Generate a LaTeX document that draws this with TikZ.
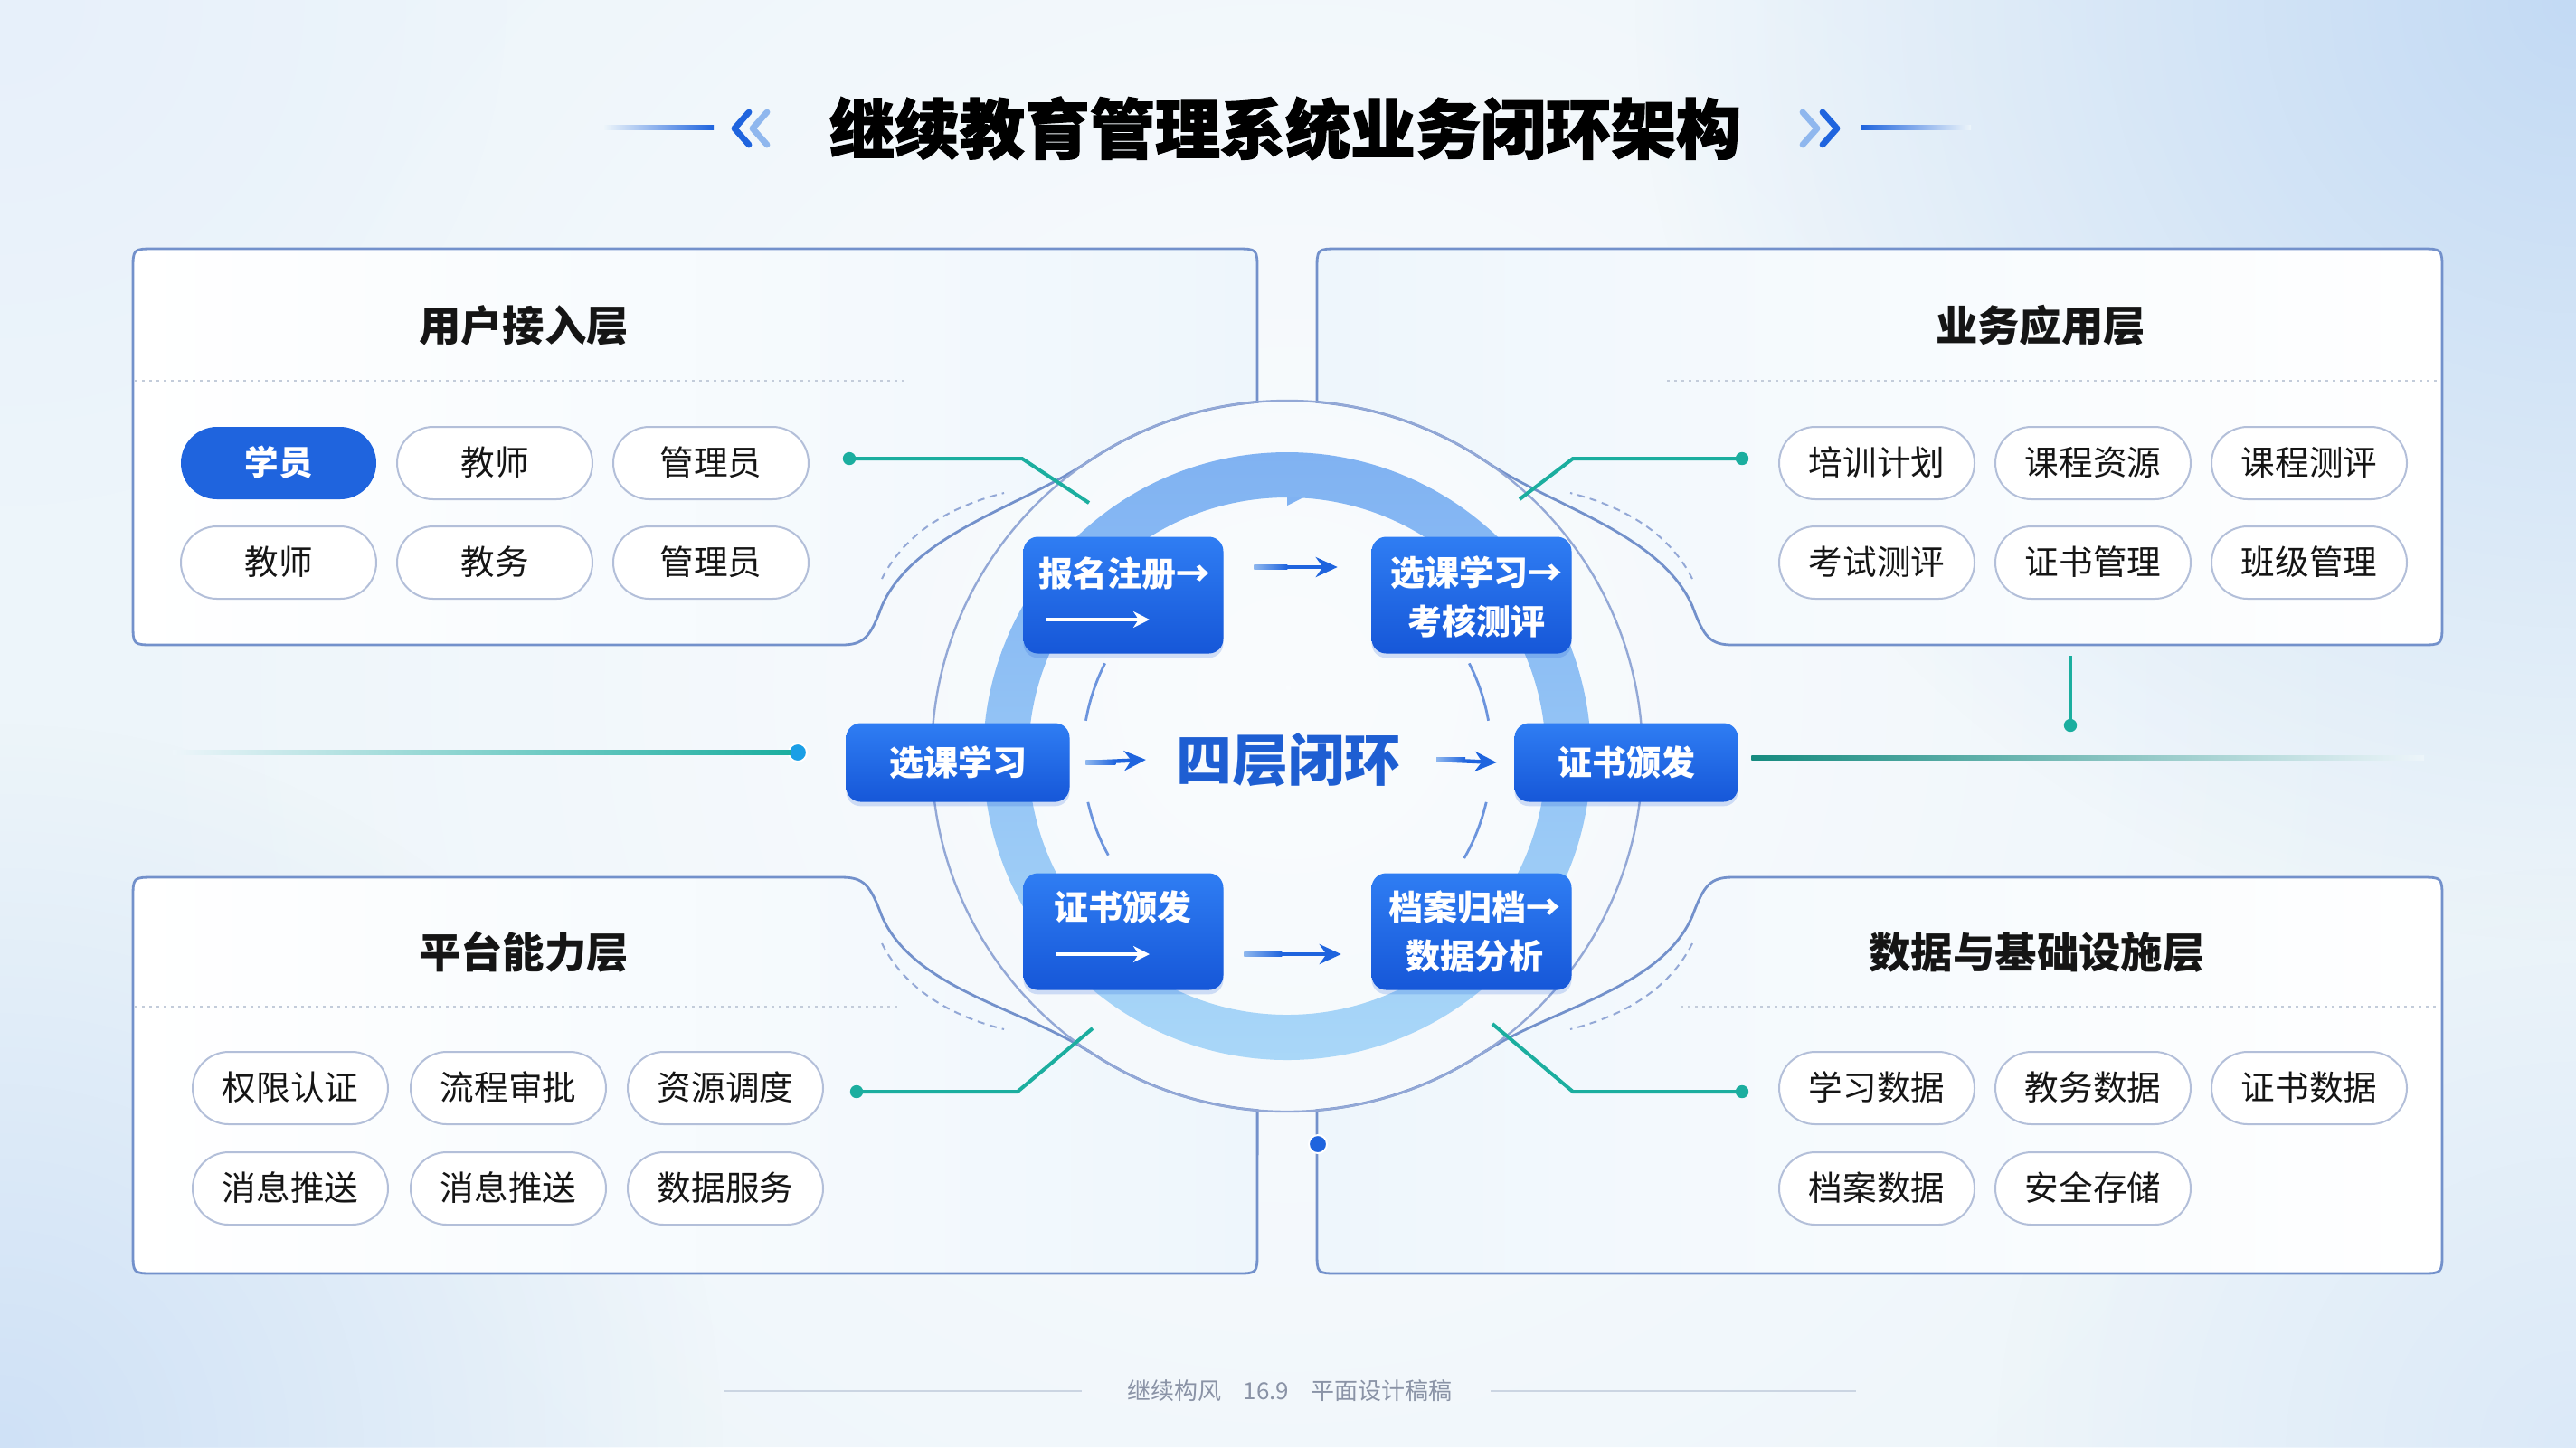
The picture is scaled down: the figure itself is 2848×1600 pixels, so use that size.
\documentclass[tikz,border=0pt]{standalone}
\usepackage{fontspec}
\setmainfont{Noto Sans CJK SC}
\newfontfamily\titlefont[BoldFeatures={FakeBold=1.6}]{Noto Sans CJK SC}
\usetikzlibrary{arrows.meta,shadows,calc,fadings}

\definecolor{bgbase}{HTML}{EDF5FA}
\definecolor{bgblue}{HTML}{C3DAF4}
\definecolor{bgwhite}{HTML}{FAFCFE}
\definecolor{panelline}{HTML}{7391CB}
\definecolor{panelfill}{HTML}{EEF6FC}
\definecolor{pillline}{HTML}{B3BFD9}
\definecolor{procA}{HTML}{2F7DF3}
\definecolor{procB}{HTML}{1657D8}
\definecolor{flowblue}{HTML}{1F64DE}
\definecolor{flowlight}{HTML}{8FB7EE}
\definecolor{ringtop}{HTML}{80B2F2}
\definecolor{ringbot}{HTML}{A9D7F8}
\definecolor{orbit}{HTML}{93A8D6}
\definecolor{arcblue}{HTML}{6C94DD}
\definecolor{tealline}{HTML}{1BAE9F}
\definecolor{dotblue}{HTML}{1A9FE6}
\definecolor{headblue}{HTML}{1E5ED2}
\definecolor{footgray}{HTML}{8A93A6}
\definecolor{footline}{HTML}{CBD5E2}
\definecolor{textdark}{HTML}{151515}
\definecolor{sepgray}{HTML}{C3CCDA}

\tikzfading[name=softglow, inner color=transparent!0, outer color=transparent!100]

\tikzset{
  panel/.style={draw=panelline, line width=0.7pt},
  sep/.style={draw=sepgray, line width=0.6pt, dash pattern=on 0.8pt off 1.2pt},
  decodash/.style={draw=orbit, line width=0.5pt, dash pattern=on 2pt off 1.5pt},
  heading/.style={font=\fontsize{11.6}{13}\selectfont\bfseries, text=textdark},
  chip/.style={draw=pillline, line width=0.5pt, fill=white, rounded corners=10pt,
     minimum width=54pt, minimum height=20pt, inner sep=0pt,
     font=\fontsize{9.4}{10}\selectfont, text=textdark, text height=0.8em, text depth=0.12em},
  chipon/.style={chip, draw=none, fill=flowblue, text=white, font=\fontsize{9.4}{10}\selectfont\bfseries},
  proc/.style={rounded corners=4pt, top color=procA, bottom color=procB, draw=none, inner sep=0pt,
     drop shadow={shadow xshift=0pt, shadow yshift=-1.2pt, opacity=0.18, fill=procB}},
  proctext/.style={text=white, font=\fontsize{9.5}{13.6}\selectfont\bfseries, align=center, inner sep=0pt},
  flow/.style={draw=flowblue, line width=1.1pt, -{Stealth[length=6pt, width=5.5pt]}},
  flowtail/.style={left color=flowlight, right color=flowblue},
  innerarrow/.style={draw=white, line width=0.8pt, -{Stealth[length=4.5pt, width=4.5pt]}},
  link/.style={draw=tealline, line width=1pt},
  tdot/.style={circle, fill=tealline, minimum size=3.6pt, inner sep=0pt},
  bdot/.style={circle, fill=dotblue, draw=white, line width=0.5pt, minimum size=5pt, inner sep=0pt},
  orbitline/.style={draw=orbit, line width=0.6pt},
  innerarc/.style={draw=arcblue, line width=0.7pt},
  chev/.style={line width=1.7pt, line cap=round, line join=round},
}

\begin{document}
\begin{tikzpicture}[x=0.25pt, y=-0.25pt]
\useasboundingbox (0,0) rectangle (2848,1600);

% backdrop with soft glows
\fill[bgbase] (0,0) rectangle (2848,1600);
\begin{scope}
  \clip (0,0) rectangle (2848,1600);
  \fill[bgwhite, path fading=softglow] (1424,760) circle[radius=330pt];
  \fill[bgblue, path fading=softglow] (2848,0) circle[radius=260pt];
  \fill[bgblue!80, path fading=softglow] (0,1600) circle[radius=200pt];
  \fill[bgblue!60, path fading=softglow] (2848,1600) circle[radius=160pt];
  \fill[bgblue!40, path fading=softglow] (0,0) circle[radius=140pt];
\end{scope}

% title
\node[font=\titlefont\fontsize{18}{20}\selectfont\bfseries, text=black] (title) at (1421,142) {继续教育管理系统业务闭环架构};
\shade[left color=bgbase, right color=flowblue] (668,138) rectangle (789,143);
\shade[left color=flowblue, right color=bgbase] (2058,138) rectangle (2179,143);
\draw[chev, flowblue] (828,124) -- (812,142) -- (828,160);
\draw[chev, flowlight] (848,124) -- (832,142) -- (848,160);
\draw[chev, flowlight] (1993,124) -- (2009,142) -- (1993,160);
\draw[chev, flowblue] (2015,124) -- (2031,142) -- (2015,160);

% four layer panels, each notched by the orbit circle
\path[panel, left color=white, right color=panelfill]
  (147,299) .. controls (147,275) .. (171,275) -- (1366,275) .. controls (1390,275) .. (1390,299) -- (1390,443)
  -- plot[domain=265.2:236, samples=20] ({1423+393*cos(\x)},{836+393*sin(\x)})
  .. controls (1130,560) and (1010,590) .. (975,670) .. controls (962,705) and (955,713) .. (930,713)
  -- (171,713) .. controls (147,713) .. (147,689) -- cycle;
\path[panel, left color=panelfill, right color=white]
  (2700,299) .. controls (2700,275) .. (2676,275) -- (1480,275) .. controls (1456,275) .. (1456,299) -- (1456,443)
  -- plot[domain=274.8:304, samples=20] ({1423+393*cos(\x)},{836+393*sin(\x)})
  .. controls (1716,560) and (1836,590) .. (1871,670) .. controls (1884,705) and (1891,713) .. (1916,713)
  -- (2676,713) .. controls (2700,713) .. (2700,689) -- cycle;
\path[panel, left color=white, right color=panelfill]
  (147,994) .. controls (147,970) .. (171,970) -- (930,970) .. controls (955,970) and (962,978) .. (975,1013)
  .. controls (1010,1093) and (1130,1115) .. (1203,1162)
  -- plot[domain=124:94.8, samples=20] ({1423+393*cos(\x)},{836+393*sin(\x)})
  -- (1390,1384) .. controls (1390,1408) .. (1366,1408) -- (171,1408) .. controls (147,1408) .. (147,1384) -- cycle;
\path[panel, left color=panelfill, right color=white]
  (2700,994) .. controls (2700,970) .. (2676,970) -- (1916,970) .. controls (1891,970) and (1884,978) .. (1871,1013)
  .. controls (1836,1093) and (1716,1115) .. (1643,1162)
  -- plot[domain=56:85.2, samples=20] ({1423+393*cos(\x)},{836+393*sin(\x)})
  -- (1456,1384) .. controls (1456,1408) .. (1480,1408) -- (2676,1408) .. controls (2700,1408) .. (2700,1384) -- cycle;

% dashed accents along the notches
\draw[decodash] (975,640) .. controls (1000,590) and (1050,560) .. (1110,545);
\draw[decodash] (1871,640) .. controls (1846,590) and (1796,560) .. (1736,545);
\draw[decodash] (975,1043) .. controls (1000,1093) and (1050,1123) .. (1110,1138);
\draw[decodash] (1871,1043) .. controls (1846,1093) and (1796,1123) .. (1736,1138);

% dotted separators
\draw[sep] (149,421) -- (1000,421);
\draw[sep] (1843,421) -- (2697,421);
\draw[sep] (149,1113) -- (992,1113);
\draw[sep] (1858,1113) -- (2697,1113);

% headings
\node[heading] (hA) at (579,360) {用户接入层};
\node[heading] (hB) at (2256,360) {业务应用层};
\node[heading] (hC) at (579,1053) {平台能力层};
\node[heading] (hD) at (2252,1053) {数据与基础设施层};

% chips
\node[chipon] (a1) at (308,512) {学员};
\node[chip] (a2) at (547,512) {教师};
\node[chip] (a3) at (786,512) {管理员};
\node[chip] (a4) at (308,622) {教师};
\node[chip] (a5) at (547,622) {教务};
\node[chip] (a6) at (786,622) {管理员};

\node[chip] (b1) at (2075,512) {培训计划};
\node[chip] (b2) at (2314,512) {课程资源};
\node[chip] (b3) at (2553,512) {课程测评};
\node[chip] (b4) at (2075,622) {考试测评};
\node[chip] (b5) at (2314,622) {证书管理};
\node[chip] (b6) at (2553,622) {班级管理};

\node[chip] (c1) at (321,1203) {权限认证};
\node[chip] (c2) at (562,1203) {流程审批};
\node[chip] (c3) at (802,1203) {资源调度};
\node[chip] (c4) at (321,1314) {消息推送};
\node[chip] (c5) at (562,1314) {消息推送};
\node[chip] (c6) at (802,1314) {数据服务};

\node[chip] (d1) at (2075,1203) {学习数据};
\node[chip] (d2) at (2314,1203) {教务数据};
\node[chip] (d3) at (2553,1203) {证书数据};
\node[chip] (d4) at (2075,1314) {档案数据};
\node[chip] (d5) at (2314,1314) {安全存储};

% orbit, loop ring and inner arcs
\draw[orbitline] (1423,836) circle[radius=98.25pt];
\path[top color=ringtop, bottom color=ringbot, even odd rule]
  (1423,836) circle[radius=84pt] (1423,836) circle[radius=71.5pt];
\fill[ringtop] (1423,550) -- (1423,559) -- (1441,550) -- cycle;
\draw[innerarc] plot[domain=190:207, samples=12] ({1423+226*cos(\x)},{836+226*sin(\x)});
\draw[innerarc] plot[domain=151:167, samples=12] ({1423+226*cos(\x)},{836+226*sin(\x)});
\draw[innerarc] plot[domain=333:350, samples=12] ({1423+226*cos(\x)},{836+226*sin(\x)});
\draw[innerarc] plot[domain=13:30, samples=12] ({1423+226*cos(\x)},{836+226*sin(\x)});

% teal leaders from the panels towards the loop
\node[tdot] (dA) at (939,507) {};
\coordinate (kA) at (1130,507); \coordinate (eA) at (1204,556);
\draw[link] (dA.center) -- (kA) -- (eA);
\node[tdot] (dB) at (1926,507) {};
\coordinate (kB) at (1739,507); \coordinate (eB) at (1680,552);
\draw[link] (dB.center) -- (kB) -- (eB);
\node[tdot] (dC) at (947,1207) {};
\coordinate (kC) at (1125,1207); \coordinate (eC) at (1208,1137);
\draw[link] (dC.center) -- (kC) -- (eC);
\node[tdot] (dD) at (1926,1207) {};
\coordinate (kD) at (1739,1207); \coordinate (eD) at (1650,1132);
\draw[link] (dD.center) -- (kD) -- (eD);
\node[tdot] (dE) at (2289,802) {};
\coordinate (kE) at (2289,725);
\draw[link] (kE) -- (dE.center);

% process boxes
\node[proc, minimum width=55.25pt, minimum height=32.25pt] (p1) at (1242,658) {};
\node[proctext] (t1) at (1243,634) {报名注册→};
\draw[innerarrow] ($(p1.center)+(-85,27)$) -- ($(p1.center)+(29,27)$);
\node[proc, minimum width=55.25pt, minimum height=32.25pt] (p2) at (1627,658) {};
\node[proctext] (t2) at (1632,660) {选课学习→\\考核测评};
\node[proc, minimum width=55.25pt, minimum height=32.25pt] (p3) at (1242,1030) {};
\node[proctext] (t3) at (1241,1003) {证书颁发};
\draw[innerarrow] ($(p3.center)+(-74,25)$) -- ($(p3.center)+(29,25)$);
\node[proc, minimum width=55.25pt, minimum height=32.25pt] (p4) at (1627,1030) {};
\node[proctext] (t4) at (1630,1030) {档案归档→\\数据分析};
\node[proc, proctext, minimum width=61.75pt, minimum height=21.75pt] (m1) at (1059,843) {选课学习};
\node[proc, proctext, minimum width=61.75pt, minimum height=21.75pt] (m2) at (1798,843) {证书颁发};
\node[font=\fontsize{15.5}{17}\selectfont\bfseries, text=headblue] (c) at (1424,840) {四层闭环};

% flow arrows
\draw[flow] ($(p1.east)+(33,-31)$) -- ($(p2.west)+(-37,-31)$);
\draw[flow] ($(m1.east)+(17,0)$) -- ($(c.west)+(-19,0)$);
\draw[flow] ($(c.east)+(26,0)$) -- ($(m2.west)+(-19,0)$);
\draw[flow] ($(p3.east)+(22,25)$) -- ($(p4.west)+(-33,25)$);
% lighter tails on the flow arrows
\shade[flowtail] ($(p1.east)+(33,-33.2)$) rectangle ($(p1.east)+(70,-28.8)$);
\shade[flowtail] ($(m1.east)+(17,-2.2)$) rectangle ($(m1.east)+(50,2.2)$);
\shade[flowtail] ($(c.east)+(26,-2.2)$) rectangle ($(c.east)+(58,2.2)$);
\shade[flowtail] ($(p3.east)+(22,22.8)$) rectangle ($(p3.east)+(64,27.2)$);

% side leaders
\coordinate (fL) at (191,832);
\node[bdot] (dL) at (882,832) {};
\shade[left color=bgbase, right color=tealline] ($(fL)+(0,-2.5)$) rectangle ($(dL.center)+(-8,2.5)$);
\coordinate (fR) at (2680,833);
\shade[left color=tealline!80!black, right color=bgbase] ($(m2.east)+(14,-2.5)$) rectangle ($(fR)+(0,2.5)$);
\node[bdot, fill=flowblue] (dM) at (1457,1265) {};

% footer
\node[font=\fontsize{6.5}{8}\selectfont, text=footgray] (foot) at (1426,1538) {继续构风\hspace{6pt}16.9\hspace{6pt}平面设计稿稿};
\draw[footline, line width=0.7pt] ($(foot.west)+(-37,0)$) -- (800,1538);
\draw[footline, line width=0.7pt] ($(foot.east)+(29,0)$) -- (2052,1538);
\end{tikzpicture}
\end{document}
